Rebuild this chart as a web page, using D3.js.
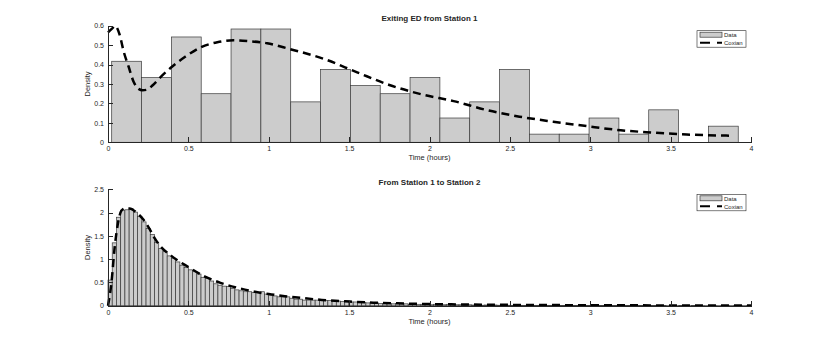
<!DOCTYPE html>
<html>
<head>
<meta charset="utf-8">
<script src="https://cdn.jsdelivr.net/npm/d3@7"></script>
<style>
    body { margin: 0; background: #fff; }
    text { font-family: "Liberation Sans", Arial, sans-serif; fill: #262626; }
    .axis path, .axis line { stroke: #262626; shape-rendering: crispEdges; }
    .axis text { font-size: 7px; }
</style>
</head>
<body>
<svg class="chart"></svg>
<script>
// top panel: histogram of exit times (21 bins)
var topBinStart = 0.023;
var topBinWidth = 0.1856;
var topDensity = [0.417, 0.333, 0.542, 0.25, 0.583, 0.583, 0.208, 0.375, 0.292, 0.25, 0.333,
    0.125, 0.208, 0.375, 0.042, 0.042, 0.125, 0.042, 0.167, 0, 0.083];
var topCurveX = [0, 0.025, 0.045, 0.07, 0.1, 0.128, 0.16, 0.19, 0.215, 0.24, 0.28, 0.33, 0.4, 0.48,
    0.58, 0.68, 0.78, 0.88, 0.99, 1.13, 1.34, 1.55, 1.75, 1.96, 2.15, 2.36, 2.56, 2.77, 2.98, 3.19,
    3.39, 3.6, 3.87];
var topCurveY = [0.565, 0.585, 0.6, 0.56, 0.46, 0.39, 0.31, 0.275, 0.268, 0.27, 0.295, 0.338, 0.39,
    0.44, 0.49, 0.515, 0.525, 0.52, 0.51, 0.48, 0.43, 0.36, 0.295, 0.245, 0.212, 0.165, 0.132, 0.106,
    0.083, 0.062, 0.05, 0.04, 0.034];

// bottom panel: histogram station 1 -> station 2
var botBinStart = 0;
var botBinWidth = 0.0263;
var botDensity = [0.55, 1.35, 1.9, 2.05, 2.06, 2.08, 2.01, 1.92, 1.8, 1.66, 1.53, 1.36, 1.23, 1.16,
    1.07, 1.02, 0.94, 0.87, 0.82, 0.77, 0.73, 0.68, 0.61, 0.59, 0.53, 0.47, 0.44, 0.42, 0.41, 0.37,
    0.34, 0.32, 0.3, 0.3, 0.28, 0.28, 0.3, 0.25, 0.23, 0.21, 0.19, 0.19, 0.19, 0.16, 0.14, 0.14,
    0.12, 0.12, 0.12, 0.12, 0.12, 0.11, 0.11, 0.1, 0.1, 0.09, 0.1, 0.08, 0.08, 0.07, 0.07, 0.06,
    0.07, 0.06, 0.05, 0.05, 0.05, 0.04, 0.05, 0.04, 0.04, 0.03, 0.04, 0.03, 0.03, 0.03, 0.02, 0.03,
    0.02, 0.02, 0.03, 0.02, 0.02, 0.02, 0.015, 0.02, 0.015, 0.015, 0.01, 0.015, 0.01, 0.015, 0.01,
    0.01, 0.01, 0.008, 0.01, 0.008, 0.008, 0.01, 0.006, 0.008, 0.006, 0.006, 0.008, 0.005, 0.006,
    0.005, 0.005, 0.006, 0.004, 0.005, 0.004, 0.004, 0.005, 0.004, 0.003, 0.004, 0.003, 0.004,
    0.003, 0.003, 0.003, 0.002, 0.003, 0.002, 0.003, 0.002, 0.002, 0.002, 0.002, 0.002, 0.001,
    0.002, 0.001, 0.002, 0.001, 0.001, 0.002, 0.001, 0.001, 0.001, 0.001, 0.001, 0.001, 0.001,
    0.001, 0.001, 0.001, 0.001, 0.001, 0.001];
var botCurveX = [0, 0.021, 0.042, 0.062, 0.083, 0.105, 0.135, 0.177, 0.22, 0.26, 0.29, 0.32, 0.394,
    0.5, 0.6, 0.7, 0.8, 0.9, 1.0, 1.1, 1.22, 1.33, 1.5, 1.65, 1.8, 2.0, 2.25, 2.5, 3.0, 3.5, 4.0];
var botCurveY = [0, 0.48, 1.27, 1.77, 2.04, 2.09, 2.09, 2.0, 1.85, 1.64, 1.45, 1.3, 1.07, 0.83, 0.63,
    0.49, 0.39, 0.31, 0.25, 0.205, 0.16, 0.125, 0.09, 0.065, 0.05, 0.035, 0.025, 0.018, 0.01, 0.006,
    0.004];

var xTicks = [0, 0.5, 1, 1.5, 2, 2.5, 3, 3.5, 4];
var topYTicks = [0, 0.1, 0.2, 0.3, 0.4, 0.5, 0.6];
var botYTicks = [0, 0.5, 1, 1.5, 2, 2.5];

var svg = d3.select(".chart").attr("width", 830).attr("height", 343);

drawPanel({
    title: "Exiting ED from Station 1",
    top: 25.7, bottom: 142.3,
    yMax: 0.6, yTicks: topYTicks,
    binStart: topBinStart, binWidth: topBinWidth, density: topDensity,
    curveX: topCurveX, curveY: topCurveY
});
drawPanel({
    title: "From Station 1 to Station 2",
    top: 189.3, bottom: 305.7,
    yMax: 2.5, yTicks: botYTicks,
    binStart: botBinStart, binWidth: botBinWidth, density: botDensity,
    curveX: botCurveX, curveY: botCurveY
});

function drawPanel(p) {
    var x = d3.scaleLinear().domain([0, 4]).range([108, 751]);
    var y = d3.scaleLinear().domain([0, p.yMax]).range([p.bottom, p.top]);
    var g = svg.append("g");

    var bins = p.density.map(function (d, i) {
        return {x0: p.binStart + i * p.binWidth, x1: p.binStart + (i + 1) * p.binWidth, d: d};
    });
    g.selectAll(".bar")
            .data(bins)
            .enter().append("rect")
            .attr("class", "bar")
            .attr("x", function (b) { return x(b.x0); })
            .attr("width", function (b) { return x(b.x1) - x(b.x0); })
            .attr("y", function (b) { return y(b.d); })
            .attr("height", function (b) { return y(0) - y(b.d); })
            .attr("fill", "#cccccc")
            .attr("stroke", "#3a3a3a")
            .attr("stroke-width", 0.7);

    var pts = p.curveX.map(function (v, i) { return [v, p.curveY[i]]; });
    g.append("path")
            .datum(pts)
            .attr("fill", "none")
            .attr("stroke", "#000")
            .attr("stroke-width", 2.5)
            .attr("stroke-dasharray", "8,5")
            .attr("d", d3.line()
                    .x(function (d) { return x(d[0]); })
                    .y(function (d) { return y(d[1]); })
                    .curve(d3.curveMonotoneX));

    g.append("g")
            .attr("class", "axis")
            .attr("transform", "translate(0," + p.bottom + ")")
            .call(d3.axisBottom(x).tickValues(xTicks).tickFormat(d3.format("")).tickSizeInner(-5).tickSizeOuter(0).tickPadding(4));
    g.append("g")
            .attr("class", "axis")
            .attr("transform", "translate(108,0)")
            .call(d3.axisLeft(y).tickValues(p.yTicks).tickFormat(d3.format("")).tickSizeInner(-5).tickSizeOuter(0).tickPadding(4));

    g.append("text")
            .attr("x", 429.5).attr("y", p.top - 4.5)
            .style("text-anchor", "middle")
            .style("font-size", "8px")
            .style("font-weight", "bold")
            .text(p.title);
    g.append("text")
            .attr("x", 429.5).attr("y", p.bottom + 18)
            .style("text-anchor", "middle")
            .style("font-size", "7.5px")
            .text("Time (hours)");
    g.append("text")
            .attr("transform", "translate(90," + ((p.top + p.bottom) / 2) + ") rotate(-90)")
            .style("text-anchor", "middle")
            .style("font-size", "7.5px")
            .text("Density");

    // legend
    var lg = g.append("g").attr("transform", "translate(697," + (p.top + 5) + ")");
    lg.append("rect")
            .attr("width", 49).attr("height", 16.5)
            .attr("fill", "#fff").attr("stroke", "#262626").attr("stroke-width", 0.6);
    lg.append("rect")
            .attr("x", 3).attr("y", 1.5).attr("width", 22).attr("height", 5)
            .attr("fill", "#cccccc").attr("stroke", "#3a3a3a").attr("stroke-width", 0.7);
    lg.append("text").attr("x", 27).attr("y", 6.5).style("font-size", "6px").text("Data");
    lg.append("line")
            .attr("x1", 3).attr("x2", 25).attr("y1", 12).attr("y2", 12)
            .attr("stroke", "#000").attr("stroke-width", 2)
            .attr("stroke-dasharray", "10,7");
    lg.append("text").attr("x", 27).attr("y", 14.3).style("font-size", "6px").text("Coxian");
}
</script>
</body>
</html>
